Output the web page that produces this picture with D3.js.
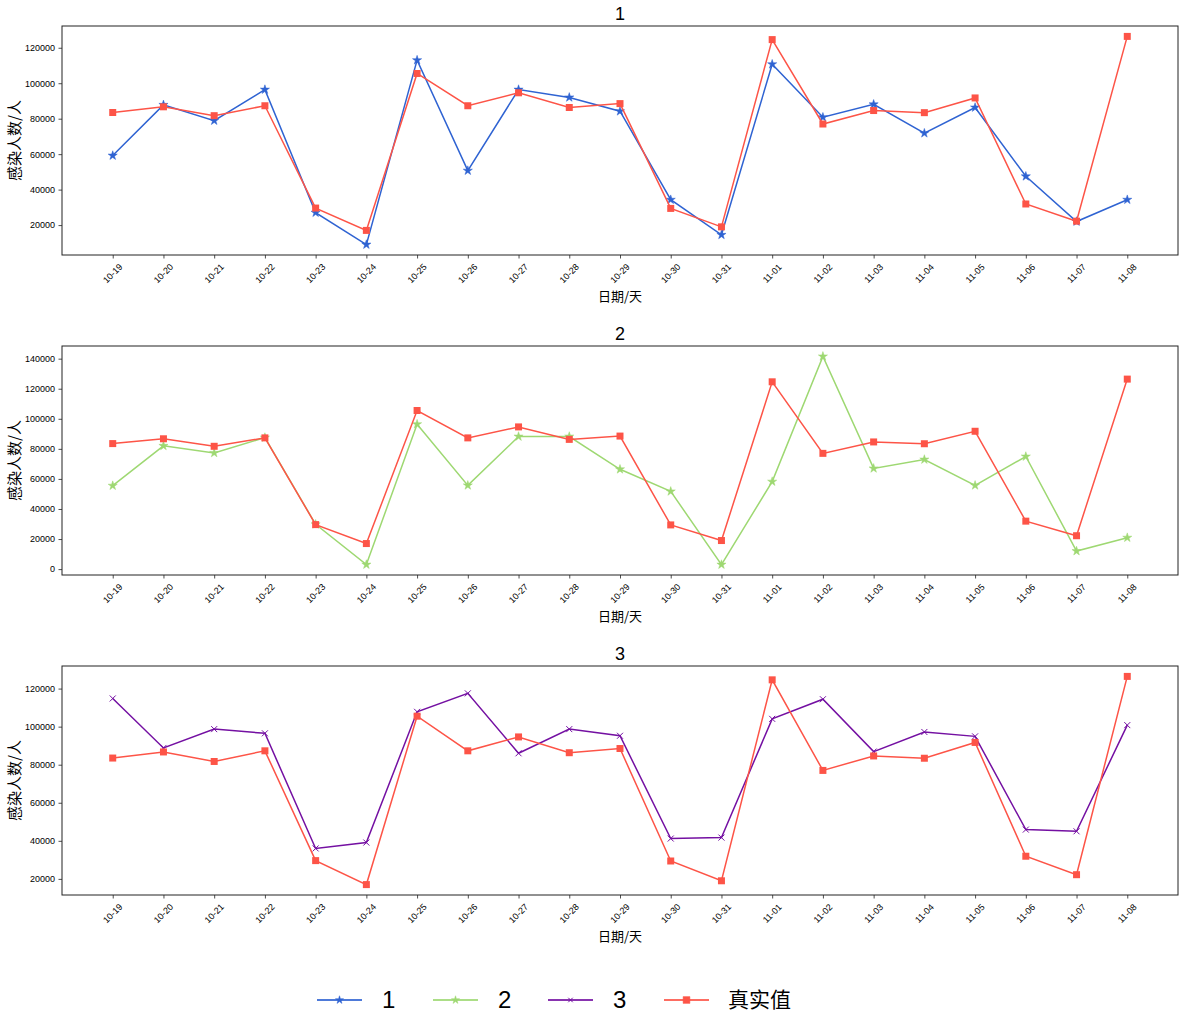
<!DOCTYPE html>
<html>
<head>
<meta charset="utf-8">
<script src="https://cdn.jsdelivr.net/npm/d3@7"></script>
<style>
  body { margin: 0; background: #fff; }
  svg { display: block; }
  text { fill: #000; }
</style>
</head>
<body>
<svg id="chart" width="1185" height="1034"></svg>
<script>
const dates = ["10-19","10-20","10-21","10-22","10-23","10-24","10-25","10-26","10-27","10-28","10-29",
               "10-30","10-31","11-01","11-02","11-03","11-04","11-05","11-06","11-07","11-08"];
const actual = [83500,86700,81700,87300,29600,17000,105500,87300,94600,86300,88500,
                29400,19000,124600,77000,84600,83400,91700,31900,22200,126400];
const pred1 = [59200,87800,78900,96400,27000,9000,113000,50700,96400,92000,84200,
               34300,14500,110700,80800,88100,71800,86300,47500,22000,34300];
const pred2 = [55500,82000,77300,87500,29800,3000,96400,55700,88200,88200,66400,
               51700,3000,58200,141500,67000,72900,55700,74900,12000,20900];
const pred3 = [114800,88800,98700,96500,36000,39100,107800,117500,86000,98700,95200,
               41200,41700,104100,114400,86900,97200,94900,45900,45000,100800];
const seriesNames = ["1","2","3"];
const actualName = "真实值";
const yTicks1 = [20000,40000,60000,80000,100000,120000];
const yTicks2 = [0,20000,40000,60000,80000,100000,120000,140000];
const yTicks3 = [20000,40000,60000,80000,100000,120000];
const xLabel = "日期/天";
const yLabel = "感染人数/人";

const colors = ["#2f63d2", "#9ed872", "#7410a2"];
const actualColor = "#fd5447";
const markers = ["star", "star", "x"];

const svg = d3.select("#chart");
const left = 62, right = 1178, ph = 229;
const tops = [26, 346, 666];
const preds = [pred1, pred2, pred3];
const tickSets = [yTicks1, yTicks2, yTicks3];
const latin = "'Liberation Sans', Arial, sans-serif";
const cjk = "'Noto Sans CJK SC', 'Noto Sans', sans-serif";

function markerPath(type, size) {
  if (type === "star") return d3.symbol(d3.symbolStar, size)();
  if (type === "square") return d3.symbol(d3.symbolSquare, size)();
  const r = Math.sqrt(size) / 2;
  return `M${-r},${-r}L${r},${r}M${-r},${r}L${r},${-r}`;
}

const x = d3.scaleLinear().domain([-1, dates.length]).range([left, right]);

preds.forEach((pred, i) => {
  const top = tops[i];
  const all = pred.concat(actual);
  const mn = d3.min(all), mx = d3.max(all);
  const pad = (mx - mn) * 0.05;
  const y = d3.scaleLinear().domain([mn - pad, mx + pad]).range([top + ph, top]);
  const g = svg.append("g");

  // x axis
  const xa = g.append("g").attr("transform", `translate(0,${top + ph})`)
    .call(d3.axisBottom(x).tickValues(d3.range(dates.length)).tickFormat(d => dates[d]).tickSize(3.5).tickSizeOuter(0));
  xa.select(".domain").remove();
  xa.selectAll("line").attr("stroke", "#222").attr("stroke-width", 0.8);
  xa.selectAll("text")
    .attr("font-family", latin).attr("font-size", 9).attr("fill", "#222")
    .attr("text-anchor", "middle")
    .attr("dy", null).attr("y", 0)
    .attr("transform", "translate(0,19) rotate(-45)")
    .attr("dominant-baseline", "middle");

  // y axis
  const ya = g.append("g").attr("transform", `translate(${left},0)`)
    .call(d3.axisLeft(y).tickValues(tickSets[i]).tickFormat(d3.format("d")).tickSize(3.5).tickSizeOuter(0));
  ya.select(".domain").remove();
  ya.selectAll("line").attr("stroke", "#222").attr("stroke-width", 0.8);
  ya.selectAll("text").attr("font-family", latin).attr("font-size", 9).attr("fill", "#222").attr("x", -7);

  // frame
  g.append("rect").attr("x", left).attr("y", top).attr("width", right - left).attr("height", ph)
    .attr("fill", "none").attr("stroke", "#222").attr("stroke-width", 1);

  const line = d3.line().x((d, k) => x(k)).y(d => y(d));

  // predicted series
  g.append("path").attr("d", line(pred)).attr("fill", "none")
    .attr("stroke", colors[i]).attr("stroke-width", 1.5);
  g.selectAll(".pm").data(pred).enter().append("path")
    .attr("transform", (d, k) => `translate(${x(k)},${y(d)})`)
    .attr("d", markerPath(markers[i], markers[i] === "x" ? 36 : 26))
    .attr("fill", colors[i]).attr("stroke", colors[i]).attr("stroke-width", markers[i] === "x" ? 1 : 0.5);

  // actual series
  g.append("path").attr("d", line(actual)).attr("fill", "none")
    .attr("stroke", actualColor).attr("stroke-width", 1.5);
  g.selectAll(".am").data(actual).enter().append("path")
    .attr("transform", (d, k) => `translate(${x(k)},${y(d)})`)
    .attr("d", markerPath("square", 49))
    .attr("fill", actualColor);

  // title
  g.append("text").attr("x", (left + right) / 2).attr("y", top - 6)
    .attr("text-anchor", "middle").attr("font-family", latin).attr("font-size", 18)
    .text(seriesNames[i]);

  // axis labels
  g.append("text").attr("x", (left + right) / 2).attr("y", top + ph + 46)
    .attr("text-anchor", "middle").attr("font-family", cjk).attr("font-size", 13)
    .text(xLabel);
  g.append("text").attr("transform", `translate(20,${top + ph / 2}) rotate(-90)`)
    .attr("text-anchor", "middle").attr("font-family", cjk).attr("font-size", 15)
    .text(yLabel);
});

// legend
const legendItems = [
  {name: seriesNames[0], color: colors[0], marker: "star"},
  {name: seriesNames[1], color: colors[1], marker: "star"},
  {name: seriesNames[2], color: colors[2], marker: "x"},
  {name: actualName, color: actualColor, marker: "square"}
];
const lx = [317, 433, 548, 664];
const ly = 1000;
legendItems.forEach((it, k) => {
  const lg = svg.append("g").attr("transform", `translate(${lx[k]},${ly})`);
  lg.append("line").attr("x1", 0).attr("x2", 45).attr("y1", 0).attr("y2", 0)
    .attr("stroke", it.color).attr("stroke-width", 2).attr("stroke-opacity", 0.85);
  lg.append("path").attr("transform", "translate(22.5,0)")
    .attr("d", markerPath(it.marker, it.marker === "square" ? 46 : 20))
    .attr("fill", it.color).attr("stroke", it.color).attr("stroke-width", it.marker === "x" ? 1 : 0.5);
  const isCjk = it.name === actualName;
  lg.append("text").attr("x", isCjk ? 64 : 65).attr("y", 0).attr("dy", "0.35em")
    .attr("font-family", isCjk ? cjk : latin).attr("font-size", isCjk ? 21 : 24)
    .text(it.name);
});
</script>
</body>
</html>
